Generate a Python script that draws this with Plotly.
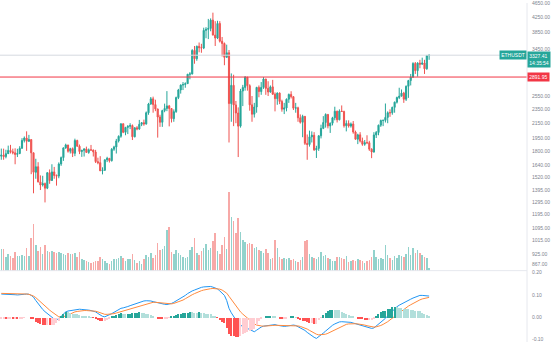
import math
import pandas as pd
import plotly.graph_objects as go

# ---- ETHUSDT daily candles, 2021-02-09 .. 2021-08-14 ----
start_date = "2021-02-09"
first_open = 1740.0

closes = [
    # Feb 9 - Feb 28
    1752, 1735, 1768, 1805, 1790, 1778, 1760, 1770, 1830, 1925, 1955, 1915, 1935, 1778, 1569, 1626, 1475, 1446, 1459, 1417,
    # Mar
    1565, 1488, 1573, 1537, 1531, 1655, 1724, 1835, 1870, 1796, 1826, 1772, 1924, 1855, 1792, 1806, 1823, 1782, 1813, 1810,
    1787, 1680, 1669, 1584, 1589, 1700, 1716, 1690, 1819, 1846, 1919,
    # Apr
    1977, 2143, 2028, 2093, 2107, 2118, 1971, 2088, 2072, 2135, 2157, 2140, 2299, 2432, 2514, 2423, 2356, 2237, 2163, 2331,
    2364, 2403, 2363, 2213, 2316, 2534, 2662, 2746, 2756, 2772,
    # May
    2945, 2950, 3431, 3253, 3522, 3490, 3484, 3902, 3928, 3952, 4168, 3785, 3715, 4079, 3640, 3587, 3282, 3380, 2439, 2742,
    2418, 2296, 2110, 2643, 2706, 2888, 2736, 2419, 2278, 2386, 2706,
    # Jun
    2634, 2706, 2855, 2689, 2627, 2715, 2590, 2517, 2609, 2472, 2353, 2372, 2508, 2587, 2549, 2368, 2373, 2226, 2163, 2247,
    1889, 1875, 1970, 1990, 1812, 1829, 1983, 2080, 2160, 2275,
    # Jul
    2113, 2150, 2226, 2322, 2198, 2324, 2318, 2115, 2147, 2111, 2140, 2032, 1940, 1995, 1917, 1878, 1898, 1897, 1820, 1787,
    1994, 2026, 2123, 2188, 2190, 2232, 2300, 2299, 2381, 2461, 2535,
    # Aug 1 - Aug 14
    2557, 2608, 2508, 2725, 2827, 2890, 3155, 3013, 3163, 3141, 3164, 3049, 3322, 3327.41,
]

highs = [
    1827, 1826, 1813, 1862, 1871, 1826, 1830, 1824, 1855, 1953, 1975, 2041, 1995, 1939, 1780, 1711, 1674, 1538, 1534, 1469,
    1569, 1598, 1652, 1624, 1547, 1672, 1736, 1840, 1885, 1868, 1836, 1840, 1947, 1934, 1875, 1814, 1830, 1850, 1828, 1870,
    1815, 1812, 1723, 1740, 1620, 1703, 1733, 1720, 1833, 1860, 1944,
    1988, 2145, 2145, 2100, 2123, 2150, 2133, 2093, 2110, 2196, 2165, 2200, 2318, 2450, 2544, 2550, 2500, 2360, 2270, 2344,
    2438, 2642, 2418, 2370, 2350, 2550, 2680, 2758, 2800, 2795,
    2950, 2985, 3458, 3530, 3540, 3610, 3580, 3970, 3983, 4200, 4214, 4372, 4140, 4150, 4140, 3740, 3610, 3560, 3440, 2960,
    2935, 2480, 2380, 2680, 2750, 2910, 2895, 2760, 2560, 2450, 2715,
    2740, 2800, 2890, 2860, 2815, 2740, 2840, 2620, 2620, 2620, 2500, 2450, 2520, 2600, 2640, 2560, 2450, 2390, 2275, 2270,
    2250, 2000, 2050, 2040, 2030, 1860, 1990, 2130, 2250, 2290,
    2280, 2160, 2240, 2390, 2330, 2350, 2410, 2330, 2190, 2190, 2160, 2180, 2050, 2010, 2030, 1960, 1930, 1990, 1920, 1830,
    2030, 2045, 2130, 2200, 2200, 2440, 2320, 2350, 2390, 2470, 2550,
    2700, 2670, 2630, 2740, 2840, 2950, 3180, 3185, 3180, 3230, 3275, 3230, 3330, 3340,
]

lows = [
    1700, 1700, 1716, 1765, 1770, 1760, 1652, 1730, 1762, 1825, 1900, 1800, 1905, 1550, 1371, 1505, 1470, 1400, 1432, 1293,
    1408, 1457, 1484, 1505, 1440, 1510, 1635, 1688, 1824, 1780, 1770, 1730, 1740, 1848, 1763, 1732, 1736, 1780, 1767, 1800,
    1736, 1665, 1652, 1582, 1548, 1583, 1675, 1670, 1681, 1800, 1770,
    1900, 1958, 2017, 1990, 2005, 2070, 1930, 1963, 2055, 2060, 2110, 2115, 2130, 2270, 2420, 2300, 2323, 1960, 2100, 2100,
    2307, 2323, 2107, 2160, 2170, 2298, 2510, 2600, 2660, 2700,
    2770, 2850, 2940, 3150, 3210, 3390, 3380, 3460, 3710, 3690, 3880, 3780, 3530, 3690, 3610, 3300, 3120, 3275, 1900, 2170,
    2110, 2150, 1730, 2090, 2400, 2650, 2650, 2330, 2170, 2230, 2300,
    2540, 2580, 2680, 2580, 2560, 2615, 2580, 2320, 2420, 2430, 2315, 2280, 2320, 2450, 2520, 2340, 2300, 2170, 2145, 1965,
    1870, 1700, 1850, 1900, 1800, 1720, 1800, 1950, 2070, 2090,
    2080, 2020, 2120, 2190, 2160, 2190, 2310, 2090, 2040, 2090, 2090, 2010, 1935, 1880, 1900, 1860, 1860, 1880, 1800, 1718,
    1780, 1955, 1990, 2100, 2110, 2160, 2150, 2240, 2270, 2300, 2440,
    2510, 2560, 2450, 2480, 2530, 2740, 2880, 2950, 2900, 3060, 3130, 2950, 3030, 3230,
]

# daily volume, thousand ETH
volumes = [
    990, 990, 630, 765, 675, 585, 855, 675, 675, 720, 675, 1035, 675, 1485, 2115, 1170, 900, 1080, 765, 1170,
    900, 855, 900, 855, 810, 855, 810, 765, 720, 810, 765, 765, 810, 630, 855, 540, 495, 450, 405, 360,
    405, 450, 450, 630, 540, 450, 360, 315, 450, 540, 540,
    585, 675, 585, 450, 540, 540, 765, 495, 360, 450, 315, 540, 720, 630, 810, 585, 720, 1260, 945, 990,
    1125, 1845, 1980, 855, 765, 945, 810, 720, 630, 585,
    630, 945, 1080, 1485, 810, 720, 900, 1035, 1215, 945, 1035, 1350, 1710, 900, 765, 1170, 1530, 990, 3555, 2430,
    2250, 1710, 2385, 1755, 1395, 1305, 1215, 1260, 1215, 1035, 1080,
    945, 900, 810, 990, 810, 540, 585, 1395, 1035, 630, 540, 585, 540, 585, 495, 540, 450, 405, 495, 630,
    1350, 1395, 765, 630, 585, 540, 630, 855, 675, 720,
    585, 540, 450, 450, 630, 630, 585, 540, 675, 405, 450, 495, 450, 540, 495, 450, 360, 450, 495, 630,
    945, 630, 540, 585, 540, 1170, 720, 585, 495, 675, 585,
    720, 675, 630, 765, 1080, 720, 1035, 810, 945, 810, 720, 630, 585, 135,
]

# MACD (12, 26, 9) line and signal line
macd_line = [
    .104, .104, .103, .103, .103, .102, .101, .100, .100, .101, .103, .104, .103, .098, .090, .075, .061, .046, .035, .025,
    .017, .008, .000, -.008, -.010, -.008, .004, .015, .024, .028, .030, .032, .035, .036, .036, .035, .035, .034, .032, .030,
    .027, .024, .017, .009, .004, .002, .006, .011, .016, .022, .028,
    .034, .040, .042, .044, .048, .052, .056, .060, .064, .068, .071, .073, .074, .074, .073, .070, .067, .064, .061, .059,
    .058, .057, .058, .062, .067, .073, .079, .084, .091, .098,
    .106, .113, .118, .122, .127, .132, .134, .136, .137, .138, .138, .135, .131, .127, .118, .108, .098, .075, .040, .020,
    .005, -.012, -.028, -.036, -.040, -.045, -.049, -.055, -.060, -.065, -.058,
    -.050, -.044, -.040, -.038, -.036, -.034, -.033, -.033, -.036, -.038, -.040, -.041, -.040, -.038, -.036, -.035, -.037, -.042, -.048, -.054,
    -.059, -.068, -.076, -.082, -.090, -.095, -.088, -.080, -.071, -.062,
    -.052, -.043, -.036, -.030, -.025, -.021, -.020, -.020, -.021, -.021, -.023, -.026, -.029, -.032, -.035, -.039, -.043, -.046, -.049, -.050,
    -.048, -.040, -.030, -.020, -.012, -.005, .006, .017, .029, .040, .047,
    .054, .060, .066, .071, .076, .081, .086, .090, .094, .098, .098, .096, .094, .095,
]

signal_line = [
    .107, .107, .107, .107, .106, .106, .105, .105, .104, .104, .104, .104, .103, .100, .095, .088, .078, .068, .058, .049,
    .040, .032, .024, .016, .008, .002, .002, .003, .005, .010, .015, .020, .024, .026, .028, .029, .030, .030, .030, .029,
    .028, .027, .024, .020, .016, .013, .013, .013, .014, .016, .019,
    .022, .026, .029, .033, .036, .039, .042, .045, .048, .051, .055, .058, .061, .064, .066, .067, .067, .066, .065, .064,
    .062, .060, .059, .060, .062, .065, .069, .073, .077, .083,
    .090, .096, .101, .106, .111, .115, .119, .122, .125, .127, .128, .129, .129, .128, .126, .122, .116, .108, .094, .079,
    .064, .049, .035, .024, .014, .005, -.004, -.012, -.021, -.030, -.035,
    -.038, -.039, -.040, -.040, -.039, -.038, -.037, -.036, -.036, -.036, -.037, -.038, -.038, -.038, -.038, -.038, -.038, -.039, -.041, -.044,
    -.048, -.053, -.059, -.065, -.071, -.076, -.079, -.079, -.078, -.076,
    -.072, -.067, -.061, -.055, -.049, -.044, -.039, -.035, -.032, -.030, -.029, -.029, -.029, -.030, -.031, -.033, -.035, -.038, -.041, -.043,
    -.044, -.043, -.041, -.037, -.032, -.027, -.020, -.012, -.004, .005, .014,
    .022, .030, .037, .044, .050, .056, .062, .068, .073, .078, .082, .085, .087, .089,
]

price_ticks = [4650, 4250, 3850, 3450, 2550, 2350, 2150, 1950, 1800, 1640, 1520, 1395, 1295, 1195, 1095, 1015, 925, 867]
macd_ticks = [0.20, 0.10, 0.00, -0.10]

symbol = "ETHUSDT"
last_price = closes[-1]
countdown = "14:35:54"
alert_price = 2891.95

# ---- styling ----
UP, DOWN = "#26a69a", "#ef5350"
LABEL_GREY = "#80848f"
FONT = "Liberation Sans, Arial, sans-serif"

W, H = 554, 342
PLOT_W = 527                 # width of the chart area, price scale to its right
MACD_H = 72                  # height of the MACD pane in px
split = MACD_H / H

n = len(closes)
dates = pd.date_range(start_date, periods=n, freq="D")
opens = [first_open] + closes[:-1]
highs_c = [max(h, o, c) for h, o, c in zip(highs, opens, closes)]
lows_c = [min(l, o, c) for l, o, c in zip(lows, opens, closes)]
is_up = [c >= o for o, c in zip(opens, closes)]

# horizontal scale: 2.3 px per day
px_per_day = 2.3
x_left = dates[0] - pd.Timedelta(days=0.57)
x_right = x_left + pd.Timedelta(days=PLOT_W / px_per_day)

# histogram and its four-colour scheme
hist = [m - s for m, s in zip(macd_line, signal_line)]
hist_colors = []
for i, h in enumerate(hist):
    prev = hist[i - 1] if i > 0 else h
    if h >= 0:
        hist_colors.append("#26a69a" if h > prev else "#b2dfdb")
    else:
        hist_colors.append("#ff5252" if h < prev else "#ffcdd2")

fig = go.Figure()

# volume, drawn behind the candles on its own scale
fig.add_trace(go.Bar(
    x=dates, y=volumes, yaxis="y2",
    marker=dict(color=["rgba(38,166,154,0.5)" if u else "rgba(239,83,80,0.5)" for u in is_up], line_width=0),
    width=0.68 * 86400000, hoverinfo="skip", showlegend=False,
))

fig.add_trace(go.Candlestick(
    x=dates, open=opens, high=highs_c, low=lows_c, close=closes, yaxis="y",
    increasing=dict(line=dict(color=UP, width=1), fillcolor=UP),
    decreasing=dict(line=dict(color=DOWN, width=1), fillcolor=DOWN),
    whiskerwidth=0, showlegend=False, hoverinfo="skip",
))

fig.add_trace(go.Bar(
    x=dates, y=hist, yaxis="y4", marker=dict(color=hist_colors, line_width=0),
    width=0.5 * 86400000, hoverinfo="skip", showlegend=False,
))
fig.add_trace(go.Scatter(x=dates, y=macd_line, yaxis="y3", mode="lines",
                         line=dict(color="#2196f3", width=1), hoverinfo="skip", showlegend=False))
fig.add_trace(go.Scatter(x=dates, y=signal_line, yaxis="y3", mode="lines",
                         line=dict(color="#ff8a3d", width=1), hoverinfo="skip", showlegend=False))

# price scale (log): 834 .. 4652
p_lo, p_hi = 834.4, 4652.0
vol_top = max(volumes) * 3.42
m_lo, m_hi = -0.111, 0.209
hist_scale = 1.4

tickfont = dict(family=FONT, size=5, color=LABEL_GREY)

fig.update_layout(
    width=W, height=H,
    margin=dict(l=0, r=W - PLOT_W, t=0, b=0),
    paper_bgcolor="white", plot_bgcolor="white",
    bargap=0, barmode="overlay",
    xaxis=dict(type="date", range=[x_left, x_right], visible=False,
               rangeslider=dict(visible=False), anchor="y3"),
    yaxis=dict(type="log", domain=[split, 1], range=[math.log10(p_lo), math.log10(p_hi)],
               side="right", tickvals=price_ticks, ticktext=[f"{v:.2f}" for v in price_ticks],
               tickfont=tickfont, ticks="outside", ticklen=3, tickcolor="rgba(0,0,0,0)",
               ticklabeloverflow="allow",
               showgrid=False, zeroline=False, showline=False),
    yaxis2=dict(overlaying="y", range=[0, vol_top], visible=False),
    yaxis3=dict(domain=[0, split], range=[m_lo, m_hi], side="right",
                tickvals=macd_ticks, ticktext=[f"{v:.2f}" for v in macd_ticks],
                tickfont=tickfont, ticks="outside", ticklen=3, tickcolor="rgba(0,0,0,0)",
                ticklabeloverflow="allow",
                showgrid=False, zeroline=False, showline=False),
    yaxis4=dict(overlaying="y3", range=[m_lo / hist_scale, m_hi / hist_scale], visible=False),
)

# alert line, last-price line, pane separators
fig.add_shape(type="line", xref="paper", x0=0, x1=1, yref="y", y0=alert_price, y1=alert_price,
              line=dict(color="#f23645", width=1))
fig.add_shape(type="line", xref="paper", x0=0, x1=1, yref="y", y0=last_price, y1=last_price,
              line=dict(color="#d6d9e0", width=1))
fig.add_shape(type="line", xref="paper", x0=0, x1=1, yref="paper", y0=split, y1=split,
              line=dict(color="#e6e8ee", width=1))
fig.add_shape(type="line", xref="paper", x0=1, x1=1, yref="paper", y0=0, y1=1,
              line=dict(color="#e6e8ee", width=1))

label_font = dict(family=FONT, size=5, color="white")
fig.add_annotation(xref="paper", x=1, xanchor="right", yref="y", y=math.log10(last_price),
                   yanchor="middle", text=symbol, showarrow=False, font=label_font,
                   bgcolor=UP, borderpad=1.2)
fig.add_annotation(xref="paper", x=1, xanchor="left", yref="y", y=math.log10(last_price),
                   yanchor="top", yshift=4, text=f"{last_price:.2f}<br>{countdown}", showarrow=False,
                   font=label_font, bgcolor=UP, borderpad=1.2, align="left")
fig.add_annotation(xref="paper", x=1, xanchor="left", yref="y", y=math.log10(alert_price),
                   yanchor="middle", text=f"{alert_price:.2f}", showarrow=False,
                   font=label_font, bgcolor="#f23645", borderpad=1.2)

fig.write_html("out.html", config={"displayModeBar": False})
